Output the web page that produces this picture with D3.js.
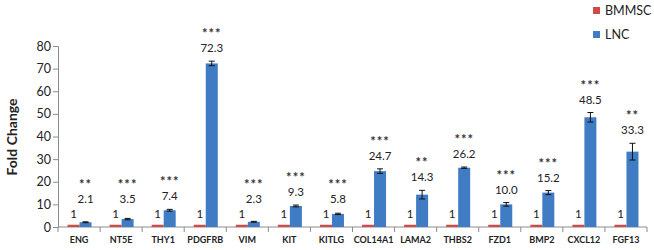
<!DOCTYPE html>
<html><head><meta charset="utf-8">
<script src="https://cdn.jsdelivr.net/npm/d3@7"></script>
<style>
html,body{margin:0;padding:0;background:#fff;}
svg{display:block;font-family:Lato,"Open Sans",sans-serif;}
</style></head>
<body><svg id="c" width="654" height="250"></svg>
<script>
const categories = ["ENG","NT5E","THY1","PDGFRB","VIM","KIT","KITLG","COL14A1","LAMA2","THBS2","FZD1","BMP2","CXCL12","FGF13"];
const seriesNames = ["BMMSC","LNC"];
const bmmscValues = [1,1,1,1,1,1,1,1,1,1,1,1,1,1];
const bmmscErrors = [0,0,0,0,0,0,0,0,0,0,0,0,0,0];
const lncValues = [2.1,3.5,7.4,72.3,2.3,9.3,5.8,24.7,14.3,26.2,10.0,15.2,48.5,33.3];
const lncErrors = [0.2,0.3,0.4,1.0,0.2,0.4,0.3,1.0,1.9,0.3,0.8,0.9,2.1,3.7];
const significance = ["**","***","***","***","***","***","***","***","**","***","***","***","***","**"];
const yTicks = [0,10,20,30,40,50,60,70,80];
const colors = {BMMSC:"#cf4b4b", LNC:"#3f7cc4"};

const svg = d3.select("#c");
const x = d3.scaleBand().domain(categories).range([58,647]);
const x1 = d3.scaleBand().domain(seriesNames).range([-11.5,12.5]);
const y = d3.scaleLinear().domain([0,80]).range([227,46]);

// y axis
const yAxis = d3.axisLeft(y).tickValues(yTicks).tickSize(5).tickPadding(2);
const gy = svg.append("g").attr("transform","translate(58,0)").call(yAxis);
gy.select(".domain").attr("stroke","#8c8c8c");
gy.selectAll(".tick line").attr("stroke","#8c8c8c");
gy.selectAll(".tick text").attr("font-size",12.5).attr("fill","#222").attr("font-family","Lato");

// axis title
svg.append("text").attr("transform","translate(17,137) rotate(-90)")
  .attr("text-anchor","middle").attr("font-size",14).attr("font-weight","bold").attr("fill","#222")
  .text("Fold Change");

// x axis
const boundaries = categories.map(c=>x(c)).concat([x.range()[1]]);
svg.append("line").attr("x1",58).attr("x2",647).attr("y1",y(0)).attr("y2",y(0)).attr("stroke","#8c8c8c");
svg.append("g").selectAll("line").data(boundaries).join("line")
  .attr("x1",d=>d).attr("x2",d=>d).attr("y1",y(0)).attr("y2",y(0)+5).attr("stroke","#8c8c8c");
svg.append("g").selectAll("text").data(categories).join("text")
  .attr("x",d=>x(d)+x.bandwidth()/2).attr("y",243)
  .attr("text-anchor","middle").attr("font-size",9).attr("font-weight","bold").attr("fill","#222")
  .text(d=>d);

// bars
const rows = categories.map((c,i)=>({c, i,
  vals:[{s:"BMMSC",v:bmmscValues[i],e:bmmscErrors[i]},{s:"LNC",v:lncValues[i],e:lncErrors[i]}]}));
const cx = d=>x(d.c)+x.bandwidth()/2;
const g = svg.append("g").selectAll("g").data(rows).join("g").attr("transform",d=>`translate(${cx(d)},0)`);
g.selectAll("rect").data(d=>d.vals).join("rect")
  .attr("x",d=>x1(d.s)).attr("width",x1.bandwidth())
  .attr("y",d=>y(d.v)).attr("height",d=>y(0)-y(d.v))
  .attr("fill",d=>colors[d.s]);
// error bars
const eb = g.selectAll("g.eb").data(d=>d.vals.filter(v=>v.e>0)).join("g").attr("class","eb");
eb.append("line").attr("x1",d=>x1(d.s)+x1.bandwidth()/2).attr("x2",d=>x1(d.s)+x1.bandwidth()/2)
  .attr("y1",d=>y(d.v+d.e)).attr("y2",d=>y(d.v-d.e)).attr("stroke","#111").attr("stroke-width",1);
eb.append("line").attr("x1",d=>x1(d.s)+x1.bandwidth()/2-3).attr("x2",d=>x1(d.s)+x1.bandwidth()/2+3)
  .attr("y1",d=>y(d.v+d.e)).attr("y2",d=>y(d.v+d.e)).attr("stroke","#111").attr("stroke-width",1);
eb.append("line").attr("x1",d=>x1(d.s)+x1.bandwidth()/2-3).attr("x2",d=>x1(d.s)+x1.bandwidth()/2+3)
  .attr("y1",d=>y(d.v-d.e)).attr("y2",d=>y(d.v-d.e)).attr("stroke","#111").attr("stroke-width",1);

// labels
g.append("text").attr("x",x1("BMMSC")+x1.bandwidth()/2).attr("y",218)
  .attr("text-anchor","middle").attr("font-size",11.5).attr("fill","#222").text(d=>bmmscValues[d.i]);
const labelY = d=>Math.min(y(lncValues[d.i]+lncErrors[d.i])-13, 199);
g.append("text").attr("x",x1("LNC")+x1.bandwidth()/2).attr("y",d=>labelY(d)+4)
  .attr("text-anchor","middle").attr("font-size",11.5).attr("fill","#222")
  .text(d=>lncValues[d.i].toFixed(1));
g.append("text").attr("x",x1("LNC")+x1.bandwidth()/2).attr("y",d=>labelY(d)-17+7)
  .attr("text-anchor","middle").attr("font-size",13).attr("font-weight","bold").attr("fill","#333")
  .attr("letter-spacing",1)
  .text(d=>significance[d.i]);

// legend
const lg = svg.append("g").selectAll("g").data(seriesNames).join("g")
  .attr("transform",(d,i)=>`translate(593,${7+i*24})`);
lg.append("rect").attr("width",7).attr("height",7).attr("fill",d=>colors[d]);
lg.append("text").attr("x",12).attr("y",8).attr("font-size",12.5).attr("fill","#222").text(d=>d);
</script></body></html>
